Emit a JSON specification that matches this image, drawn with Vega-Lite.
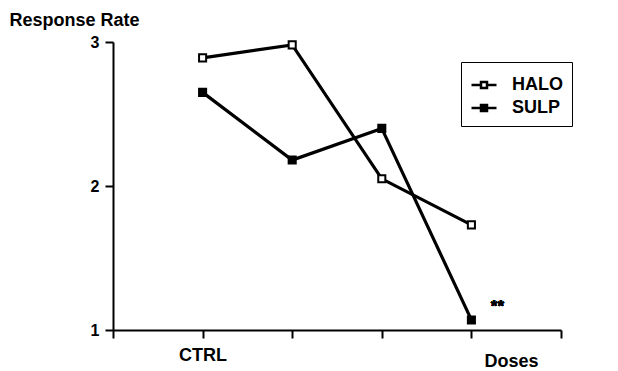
{
  "$schema": "https://vega.github.io/schema/vega-lite/v6.json",
  "autosize": {"type": "none"},
  "width": 448,
  "height": 288,
  "padding": {"left": 113, "top": 42, "right": 57, "bottom": 41},
  "background": "white",
  "config": {
    "view": {"stroke": null},
    "font": "Liberation Sans",
    "axis": {
      "grid": false,
      "domainColor": "black",
      "domainWidth": 2,
      "tickColor": "black",
      "tickWidth": 2,
      "tickSize": 8,
      "labelColor": "black",
      "labelFont": "Liberation Sans",
      "labelFontWeight": "bold",
      "titleColor": "black",
      "titleFont": "Liberation Sans",
      "titleFontWeight": "bold"
    },
    "legend": {
      "strokeColor": "black",
      "padding": 9,
      "rowPadding": 0
    }
  },
  "data": {
    "values": [
      {"dose": 1, "rate": 2.89, "drug": "HALO"},
      {"dose": 2, "rate": 2.98, "drug": "HALO"},
      {"dose": 3, "rate": 2.05, "drug": "HALO"},
      {"dose": 4, "rate": 1.73, "drug": "HALO"},
      {"dose": 1, "rate": 2.65, "drug": "SULP"},
      {"dose": 2, "rate": 2.18, "drug": "SULP"},
      {"dose": 3, "rate": 2.40, "drug": "SULP"},
      {"dose": 4, "rate": 1.07, "drug": "SULP"}
    ]
  },
  "layer": [
    {
      "mark": {"type": "line", "stroke": "black", "strokeWidth": 3.2},
      "encoding": {
        "x": {
          "field": "dose",
          "type": "quantitative",
          "scale": {"domain": [0, 5], "nice": false, "zero": false},
          "axis": {
            "values": [0, 1, 2, 3, 4, 5],
            "labelExpr": "datum.value == 1 ? 'CTRL' : ''",
            "labelFontSize": 18,
            "labelPadding": 8,
            "labelBaseline": "top",
            "title": "Doses",
            "titleFontSize": 18,
            "titleAnchor": "start",
            "titleAlign": "center",
            "titleX": 398,
            "titleY": 31,
            "titleBaseline": "middle"
          }
        },
        "y": {
          "field": "rate",
          "type": "quantitative",
          "scale": {"domain": [1, 3], "nice": false, "zero": false},
          "axis": {
            "values": [1, 2, 3],
            "labelExpr": "'' + datum.value",
            "labelFontSize": 16,
            "labelPadding": 6,
            "title": "Response Rate",
            "titleFontSize": 18,
            "titleAngle": 0,
            "titleAlign": "left",
            "titleBaseline": "middle",
            "titleX": -104,
            "titleY": -22
          }
        },
        "detail": {"field": "drug", "type": "nominal"}
      }
    },
    {
      "mark": {"type": "point", "shape": "square", "filled": true, "size": 50, "stroke": "black", "strokeWidth": 2, "opacity": 1},
      "encoding": {
        "x": {"field": "dose", "type": "quantitative"},
        "y": {"field": "rate", "type": "quantitative"},
        "fill": {
          "field": "drug",
          "type": "nominal",
          "scale": {"domain": ["HALO", "SULP"], "range": ["white", "black"]},
          "legend": {
            "orient": "none",
            "legendX": 348,
            "legendY": 20,
            "title": null,
            "symbolType": "M-1,0H-0.24M0.24,0H1M-0.24,-0.24H0.24V0.24H-0.24Z",
            "symbolSize": 625,
            "symbolStrokeColor": "black",
            "symbolStrokeWidth": 2.5,
            "symbolOpacity": 1,
            "labelFont": "Liberation Sans",
            "labelFontWeight": "bold",
            "labelFontSize": 18,
            "labelColor": "black",
            "labelOffset": 14
          }
        }
      }
    },
    {
      "mark": {"type": "text", "text": "**", "fontSize": 17, "fontWeight": "bold", "font": "Liberation Sans", "color": "black"},
      "encoding": {
        "x": {"datum": 4.29, "type": "quantitative"},
        "y": {"datum": 1.16, "type": "quantitative"}
      }
    }
  ]
}
